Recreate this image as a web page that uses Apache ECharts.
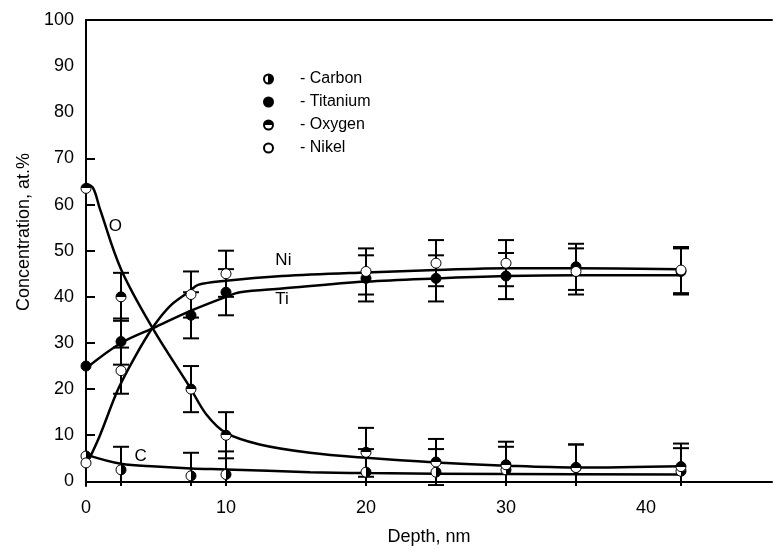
<!DOCTYPE html>
<html lang="en">

<head>
  <meta charset="UTF-8">
  <title>Depth profile</title>
  <script src="https://cdn.jsdelivr.net/npm/echarts@6.0.0/dist/echarts.min.js"></script>
  <style>
    html, body { margin: 0; padding: 0; background: #fff; }
  </style>
</head>

<body>
  <div id="main" style="width:774px;height:551px;"></div>
  <script type="text/javascript">
    // measured points (depth, nm)
    var depth = [0, 2.5, 7.5, 10, 20, 25, 30, 35, 42.5];
    var carbon = [5.5, 2.5, 1.2, 1.5, 2, 2, 2.5, 3, 2.2];
    var titanium = [25, 30.3, 36, 41, 44, 44, 44.5, 46.5, 45.5];
    var oxygen = [63.5, 40, 20, 10, 6.3, 4.2, 3.6, 3, 3.2];
    var nikel = [4, 24, 40.5, 45, 45.5, 47.3, 47.3, 45.5, 45.8];

    // error bar half widths (0 = no bar)
    var carbonErr = [0, 5, 5, 5, 5, 5, 5, 5, 5];
    var titaniumErr = [0, 5, 5, 5, 5, 5, 5, 5, 5];
    var oxygenErr = [0, 5.2, 5, 5, 5.3, 5, 5, 5, 5];
    var nikelErr = [0, 5, 5, 5, 5, 5, 5, 5, 5];

    // fitted curves
    var curveO = [[0, 64.5], [0.5, 63.6], [1, 59], [2.5, 46], [4.8, 33], [7.4, 20.5], [8.6, 14.5],
      [10, 10.5], [12.4, 8], [16, 6.2], [20, 5.1], [25, 4.1], [30, 3.4], [35, 3], [42.5, 3.3]];
    var curveTi = [[0, 24.5], [2.5, 30], [5, 33.5], [7.5, 37], [10, 40], [11, 41], [14, 41.8],
      [20, 43.3], [25, 44], [30, 44.5], [35, 44.7], [42.5, 44.7]];
    var curveNi = [[0.3, 5.3], [1, 10], [2.3, 20], [3.5, 27], [4.8, 33.5], [6, 38], [7.4, 41.2],
      [8, 42.6], [10, 43.5], [14, 44.5], [20, 45.3], [25, 45.8], [30, 46.2], [35, 46.2], [42.5, 46]];
    var curveC = [[0, 5.8], [2.5, 3.8], [5, 3.2], [7.5, 2.8], [10, 2.6], [16, 2], [20, 1.8],
      [30, 1.6], [42.5, 1.5]];

    // curve labels (text, depth, concentration)
    var notes = [['O', 2.1, 55.2], ['C', 3.9, 5.5], ['Ni', 14.1, 47.9], ['Ti', 14.0, 39.5]];

    var yLabels = [0, 10, 20, 30, 40, 50, 60, 70, 80, 90, 100];
    var yTicks = [0, 10, 20, 30, 40, 50, 60, 70];
    var xLabels = [0, 10, 20, 30, 40];

    var font = 'Liberation Sans, Arial, sans-serif';

    function pts(vals) {
      return depth.map(function(d, i) { return [d, vals[i]]; });
    }

    function errs(vals, e) {
      var out = [];
      for (var i = 0; i < depth.length; i++) {
        if (e[i] > 0) out.push([depth[i], vals[i] - e[i], vals[i] + e[i]]);
      }
      return out;
    }

    function renderErr(params, api) {
      var x = api.value(0);
      var top = api.coord([x, api.value(2)]);
      var bot = api.coord([x, api.value(1)]);
      var w = 8;
      var st = { stroke: '#000', lineWidth: 2 };
      return {
        type: 'group',
        children: [
          { type: 'line', shape: { x1: top[0], y1: top[1], x2: bot[0], y2: bot[1] }, style: st },
          { type: 'line', shape: { x1: top[0] - w, y1: top[1], x2: top[0] + w, y2: top[1] }, style: st },
          { type: 'line', shape: { x1: bot[0] - w, y1: bot[1], x2: bot[0] + w, y2: bot[1] }, style: st }
        ]
      };
    }

    function half(x2, y2) {
      return {
        type: 'linear', x: 0, y: 0, x2: x2, y2: y2,
        colorStops: [
          { offset: 0, color: x2 ? '#fff' : '#000' },
          { offset: 0.5, color: x2 ? '#fff' : '#000' },
          { offset: 0.5, color: x2 ? '#000' : '#fff' },
          { offset: 1, color: x2 ? '#000' : '#fff' }
        ]
      };
    }

    function curve(d) {
      return {
        type: 'line', data: d, smooth: 0.35, symbol: 'none', silent: true, z: 2,
        lineStyle: { color: '#000', width: 2.5 }
      };
    }

    function errSeries(d) {
      return { type: 'custom', data: d, renderItem: renderErr, clip: true, silent: true, z: 3 };
    }

    function marks(name, vals, color) {
      return {
        name: name, type: 'scatter', data: pts(vals), symbol: 'circle', symbolSize: 10, z: 5,
        itemStyle: { color: color, borderColor: '#000', borderWidth: 1, opacity: 1 }
      };
    }

    var myChart = echarts.init(document.getElementById('main'));

    var option = {
      animation: false,
      backgroundColor: '#fff',
      textStyle: { fontFamily: font, color: '#000' },
      grid: { left: 86, right: 2, top: 20, bottom: 56 },
      legend: {
        data: ['Carbon', 'Titanium', 'Oxygen', 'Nikel'],
        orient: 'vertical', left: 258, top: 66, itemGap: 7,
        itemWidth: 9, itemHeight: 9, icon: 'circle',
        formatter: '- {name}',
        textStyle: { fontFamily: font, fontSize: 16, color: '#000', padding: [0, 0, 0, 22] }
      },
      xAxis: [{
        type: 'value', min: 0, max: 49, interval: 10,
        name: 'Depth, nm', nameLocation: 'middle', nameGap: 42,
        nameTextStyle: { fontFamily: font, fontSize: 18, color: '#000' },
        axisLine: { lineStyle: { color: '#000', width: 2 } },
        axisTick: { show: false },
        splitLine: { show: false },
        axisLabel: { customValues: xLabels, fontFamily: font, fontSize: 18, color: '#000', margin: 13 }
      }, {
        type: 'value', position: 'top', min: 0, max: 49,
        axisLine: { show: true, onZero: false, lineStyle: { color: '#000', width: 2 } },
        axisTick: { show: false }, axisLabel: { show: false }, splitLine: { show: false }
      }],
      yAxis: {
        type: 'value', min: -1, max: 100,
        axisLine: { show: true, lineStyle: { color: '#000', width: 2 } },
        axisTick: { show: true, inside: true, length: 9, customValues: yTicks, lineStyle: { color: '#000', width: 2 } },
        splitLine: { show: false },
        axisLabel: { customValues: yLabels, fontFamily: font, fontSize: 18, color: '#000', margin: 12 }
      },
      series: [
        curve(curveO), curve(curveTi), curve(curveNi), curve(curveC),
        errSeries(errs(carbon, carbonErr)),
        errSeries(errs(titanium, titaniumErr)),
        errSeries(errs(oxygen, oxygenErr)),
        errSeries(errs(nikel, nikelErr)),
        marks('Carbon', carbon, half(1, 0)),
        marks('Titanium', titanium, '#000'),
        marks('Oxygen', oxygen, half(0, 1)),
        marks('Nikel', nikel, '#fff')
      ]
    };

    myChart.setOption(option);

    // rotated y title + curve labels placed through the axes
    var texts = [{
      type: 'text', x: 24, y: 232, rotation: Math.PI / 2,
      style: {
        text: 'Concentration, at.%', align: 'center', verticalAlign: 'middle',
        fontFamily: font, fontSize: 18, fill: '#000'
      }
    }];
    notes.forEach(function(n) {
      var p = myChart.convertToPixel({ gridIndex: 0 }, [n[1], n[2]]);
      texts.push({
        type: 'text', x: p[0], y: p[1], z: 10,
        style: { text: n[0], align: 'center', verticalAlign: 'middle', fontFamily: font, fontSize: 17, fill: '#000' }
      });
    });
    myChart.setOption({ graphic: texts });

    window.onresize = function() {
      myChart.resize();
    }
  </script>
</body>

</html>
